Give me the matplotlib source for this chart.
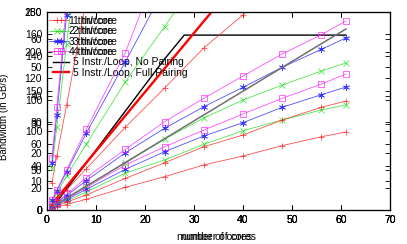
import matplotlib.pyplot as plt

plt.rcParams['font.family'] = ['Liberation Sans', 'DejaVu Sans']

# number of cores used in the measurements
cores = [1, 2, 4, 8, 16, 24, 32, 40, 48, 56, 61]

# plot A, axis 0..180 GB/s
a_4thr = [2.7, 5.5, 10.5, 20.6, 40.9, 57.5, 72.7, 87.3, 101.5, 114.5, 123.6]
a_3thr = [2.5, 4.8, 9.5, 18.8, 37.0, 53.0, 67.3, 79.4, 93.4, 104.8, 111.8]
a_2thr = [2.1, 4.1, 8.2, 16.4, 33.6, 45.5, 59.7, 72.1, 81.8, 90.9, 95.5]
a_1thr = [1.3, 2.5, 5.0, 9.7, 20.6, 30.3, 40.9, 49.1, 58.5, 66.6, 70.9]
nopair_cores = [1, 2, 4, 8, 16, 24, 28, 32, 40, 48, 56, 61]
nopair_bw = [1.8, 7.3, 19.1, 42.7, 90.0, 137.3, 159, 159, 159, 159, 159, 159]
fullpair_bw = [5.4, 10.7, 21.5, 42.9, 85.8, 128.7, 171.6, 214.5, 257.5, 300.4, 327.0]

# plot B, axis 0..250 GB/s
b_4thr = [5.0, 10.0, 19.8, 40.8, 76.6, 111.5, 141.0, 169.2, 197.0, 221.3, 238.6]
b_3thr = [4.7, 9.3, 18.3, 37.0, 72.3, 103.2, 130.4, 154.9, 180.2, 202.9, 217.2]
b_2thr = [3.8, 7.6, 15.2, 30.3, 59.3, 89.3, 116.2, 138.9, 157.8, 175.5, 185.6]
b_1thr = [2.5, 5.0, 10.0, 18.9, 40.0, 59.7, 79.9, 94.7, 113.6, 129.7, 137.6]
b_nopair = [3.7, 7.5, 15.0, 30.0, 60.0, 90.0, 120.0, 150.0, 180.0, 210.0, 228.5]

# plot C, axis 0..60 GB/s
c_4thr = [3.5, 7.0, 14.0, 28.2, 55.1, 91.0]
c_3thr = [3.4, 6.7, 13.4, 26.8, 51.9, 77.7]
c_2thr = [2.9, 5.8, 11.9, 23.0, 44.9, 64.2, 84.0]
c_1thr = [1.75, 3.5, 7.0, 14.4, 29.0, 42.7, 56.7, 68.3, 82.0]
d_4thr = [18.2, 36.0, 72.1, 144.0]
d_3thr = [16.5, 33.3, 68.3, 137.0]
d_2thr = [14.7, 29.0, 58.1, 116.0]
d_1thr = [9.5, 18.9, 36.8, 73.5]

labels = ['1 thr/core', '2 thr/core', '3 thr/core', '4 thr/core']
colors = ['#ff2020', '#20e020', '#2020ff', '#ff20ff']
markers = ['+', 'x', (6, 2, 0), 's']

fs = 7.5
W, H = 407, 244
fig = plt.figure(figsize=(W / 100, H / 100), dpi=100)
rect = [47 / W, 34 / H, 343 / W, 198 / H]
ax1 = fig.add_axes(rect)
ax2 = fig.add_axes(rect, facecolor='none')
ax3 = fig.add_axes(rect, facecolor='none')


def style(ax, x0, ytop, ystep):
    ax.set_xlim(x0, 70)
    ax.set_ylim(0, ytop)
    ax.set_xticks(range(0, 71, 10))
    ax.set_yticks(range(0, int(ytop) + 1, ystep))
    ax.tick_params(direction='in', length=3.5, width=0.6, top=True, right=True,
                   labelsize=fs, pad=3.5)
    for s in ax.spines.values():
        s.set_linewidth(0.8)


style(ax1, 0, 180, 20)
style(ax2, 0, 250, 50)
style(ax3, 0.8, 69.3, 10)


def group(ax, xs, series, with_label):
    for i, ys in enumerate(series):
        ax.plot(xs[:len(ys)], ys, color=colors[i], marker=markers[i], lw=0.55,
                ms=5, mew=0.55, mfc='none', alpha=0.85,
                label=labels[i] if with_label else None)


group(ax1, cores, [a_1thr, a_2thr, a_3thr, a_4thr], True)
ax1.plot(nopair_cores, nopair_bw, color='black', lw=1.0, label='5 Instr./Loop, No Pairing')
ax1.plot(cores, fullpair_bw, color='red', lw=1.7, label='5 Instr./Loop, Full Pairing')

group(ax2, cores, [b_1thr, b_2thr, b_3thr, b_4thr], True)
ax2.plot(cores, b_nopair, color='#707070', lw=1.1)

group(ax3, cores, [c_1thr, c_2thr, c_3thr, c_4thr], True)
group(ax3, cores, [d_1thr, d_2thr, d_3thr, d_4thr], False)

leg_kw = dict(loc='upper left', bbox_transform=fig.transFigure, frameon=False,
              fontsize=fs, borderpad=0, borderaxespad=0, handlelength=1.5,
              handletextpad=0.4, labelspacing=0.03)
ax1.legend(bbox_to_anchor=(53 / W, 1 - 16 / H), **leg_kw)
ax3.legend(bbox_to_anchor=(49 / W, 1 - 16 / H), **leg_kw)

ax1.set_ylabel('Bandwidth (in GB/s)', fontsize=7)
ax1.yaxis.set_label_coords(-0.11, 0.47)
ax1.set_xlabel('number of cores', fontsize=fs)
ax1.xaxis.set_label_coords(0.5, -0.11)
ax3.set_xlabel('number of cores', fontsize=fs)
ax3.xaxis.set_label_coords(0.5 - 4 / 343, -0.11)

fig.savefig('out.png', dpi=100)
